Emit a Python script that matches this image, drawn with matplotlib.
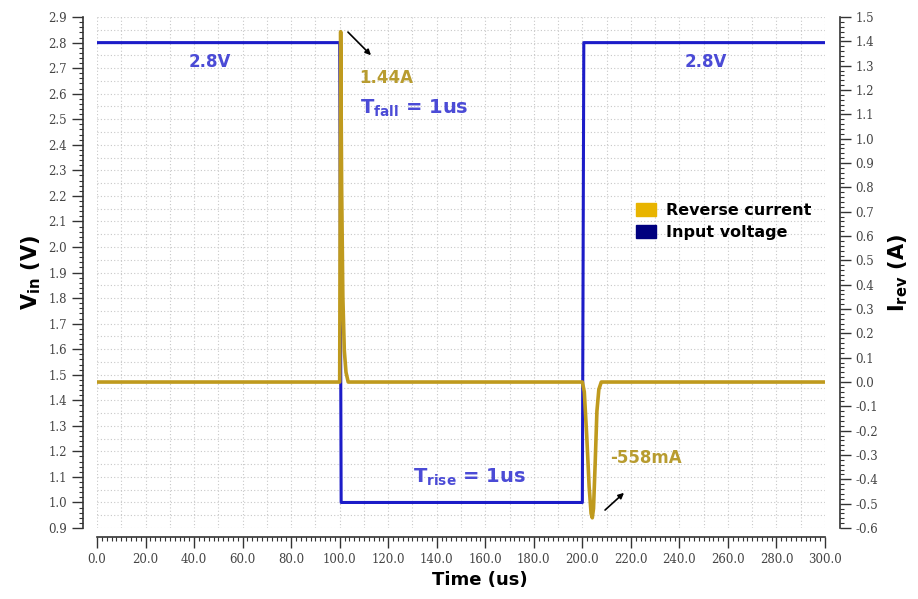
import matplotlib.pyplot as plt
import numpy as np
from matplotlib.patches import Patch
from matplotlib.ticker import MultipleLocator, FormatStrFormatter

# input voltage step (V) vs time (us)
time_v = [0, 100, 100.6, 200, 200.6, 300]
v_in = [2.8, 2.8, 1.0, 1.0, 2.8, 2.8]

# reverse current (A) vs time (us)
time_i = [0, 100, 100.4, 100.8, 101.3, 101.9, 102.6, 103.5,
          200, 200.8, 201.8, 202.8, 203.6, 204.1, 204.6, 205.3, 206.0, 206.8, 207.8, 300]
i_rev = [0, 0, 1.44, 0.8, 0.35, 0.13, 0.04, 0,
         0, -0.04, -0.22, -0.43, -0.54, -0.558, -0.52, -0.33, -0.12, -0.03, 0, 0]

BLUE = "#1c1cc8"
GOLD = "#bf9a1e"
TXT_BLUE = "#4b4bd6"
TXT_GOLD = "#b89c30"
TICK = "#444444"

fig = plt.figure(figsize=(9.18, 5.99), dpi=100)
ax = fig.add_axes([0.1057, 0.1185, 0.793, 0.853])
ax2 = ax.twinx()

ax.plot(time_v, v_in, color=BLUE, lw=2.2)
ax2.plot(time_i, i_rev, color=GOLD, lw=2.6)

ax.set_xlim(0, 300)
ax.set_ylim(0.9, 2.9)
ax2.set_ylim(-0.6, 1.5)

# ticks and dotted grid
ax.xaxis.set_minor_locator(MultipleLocator(2))
ax.xaxis.set_major_locator(MultipleLocator(20))
ax.yaxis.set_major_locator(MultipleLocator(0.1))
ax.yaxis.set_minor_locator(MultipleLocator(0.02))
ax2.yaxis.set_major_locator(MultipleLocator(0.1))
ax2.yaxis.set_minor_locator(MultipleLocator(0.02))
for xv in np.arange(0, 301, 10):
    ax.axvline(xv, color="#c8c8c8", lw=0.8, ls=(0, (1, 2)), zorder=0)
for yv in np.arange(0.9, 2.901, 0.05):
    ax.axhline(yv, color="#c8c8c8", lw=0.8, ls=(0, (1, 2)), zorder=0)

for a in (ax, ax2):
    a.spines["top"].set_visible(False)
ax.spines["right"].set_visible(False)
ax2.spines["left"].set_visible(False)
ax2.spines["bottom"].set_visible(False)
ax.spines["left"].set_position(("outward", 10))
ax.spines["bottom"].set_position(("outward", 6.5))
ax2.spines["right"].set_position(("outward", 10.5))
for sp in (ax.spines["left"], ax.spines["bottom"], ax2.spines["right"]):
    sp.set_color("#333333")
    sp.set_linewidth(1.2)

ax.yaxis.set_major_formatter(FormatStrFormatter("%.1f"))
ax2.yaxis.set_major_formatter(FormatStrFormatter("%.1f"))
ax.xaxis.set_major_formatter(FormatStrFormatter("%.1f"))
for a in (ax, ax2):
    a.tick_params(which="major", length=8, width=1, color="#333333",
                  labelsize=8.5, labelcolor=TICK, direction="out")
    a.tick_params(which="minor", length=3, width=0.8, color="#333333", direction="out")
    for lab in a.get_xticklabels() + a.get_yticklabels():
        lab.set_family("DejaVu Serif")

ax.set_xlabel("Time (us)", fontsize=13, fontweight="bold", labelpad=6)
ax.xaxis.set_label_coords(0.526, -0.085)
ax.set_ylabel(r"$\mathbf{V_{in}}$ (V)", fontsize=15, fontweight="bold", labelpad=4)
ax2.set_ylabel(r"$\mathbf{I_{rev}}$ (A)", fontsize=15, fontweight="bold", labelpad=6)

# annotations
ax.text(46.6, 2.724, "2.8V", color=TXT_BLUE, fontsize=12, fontweight="bold",
        ha="center", va="center")
ax.text(251, 2.724, "2.8V", color=TXT_BLUE, fontsize=12, fontweight="bold",
        ha="center", va="center")
ax.text(108, 2.661, "1.44A", color=TXT_GOLD, fontsize=12, fontweight="bold",
        ha="left", va="center")
ax.text(108.4, 2.544, r"$\mathbf{T_{fall}}$ = 1us", color=TXT_BLUE, fontsize=14,
        fontweight="bold", ha="left", va="center")
ax.text(130.2, 1.10, r"$\mathbf{T_{rise}}$ = 1us", color=TXT_BLUE, fontsize=14,
        fontweight="bold", ha="left", va="center")
ax.text(211.4, 1.174, "-558mA", color=TXT_GOLD, fontsize=12, fontweight="bold",
        ha="left", va="center")
ax.annotate("", xy=(113.7, 2.743), xytext=(102.6, 2.849),
            arrowprops=dict(arrowstyle="-|>", color="black", lw=1.2, mutation_scale=8))
ax.annotate("", xy=(218.0, 1.045), xytext=(208.5, 0.963),
            arrowprops=dict(arrowstyle="-|>", color="black", lw=1.2, mutation_scale=8))

handles = [Patch(facecolor="#e8b400", edgecolor="#e8b400", label="Reverse current"),
           Patch(facecolor="#00007f", edgecolor="#00007f", label="Input voltage")]
leg = ax2.legend(handles=handles, loc="upper left", bbox_to_anchor=(0.72, 0.665),
                 frameon=False, fontsize=11.5, handlelength=1.3, handleheight=0.9,
                 labelspacing=0.45, handletextpad=0.6)
for t in leg.get_texts():
    t.set_fontweight("bold")

fig.savefig("out.png", dpi=100)
